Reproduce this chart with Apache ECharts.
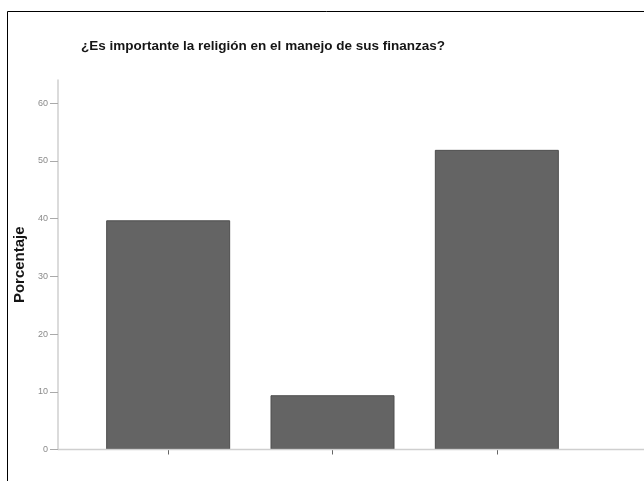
<!DOCTYPE html>
<html>
<head>
<meta charset="utf-8">
<script src="https://cdn.jsdelivr.net/npm/echarts@6/dist/echarts.min.js"></script>
<style>
html,body{margin:0;padding:0;background:#fff;}
#c{width:644px;height:481px;}
</style>
</head>
<body>
<div id="c"></div>
<script>
var titleText = '¿Es importante la religión en el manejo de sus finanzas?';
var yAxisName = 'Porcentaje';
var categories = ['Sí', 'Indiferente', 'No'];
var values = [39.7, 9.4, 51.9];
var yTicks = [0, 10, 20, 30, 40, 50, 60];

var chart = echarts.init(document.getElementById('c'), null, {renderer: 'canvas'});
chart.setOption({
  backgroundColor: '#ffffff',
  animation: false,
  title: {
    text: titleText,
    left: 258,
    top: 34,
    textAlign: 'center',
    textStyle: {fontFamily: 'Liberation Sans', fontWeight: 'bold', fontSize: 13.5, color: '#151515'}
  },
  grid: {left: 86, right: 65, top: 80, bottom: 31.5, containLabel: false},
  xAxis: {
    type: 'category',
    data: categories,
    axisLine: {show: false},
    axisTick: {show: true, alignWithLabel: true, length: 5, lineStyle: {color: '#666', width: 1}},
    axisLabel: {show: false},
    splitLine: {show: false}
  },
  yAxis: {
    type: 'value',
    min: 0,
    max: 64,
    offset: 28,
    name: yAxisName,
    nameLocation: 'middle',
    nameGap: 29,
    nameTextStyle: {fontFamily: 'Liberation Sans', fontWeight: 'bold', fontSize: 15, color: '#151515'},
    axisLine: {show: true, lineStyle: {color: '#cfcfcf', width: 1.5}},
    axisTick: {show: true, customValues: yTicks, length: 8, lineStyle: {color: '#aaa', width: 1}},
    axisLabel: {customValues: yTicks, fontFamily: 'Liberation Sans', fontSize: 9, color: '#8a8a8a', margin: 10},
    splitLine: {show: false}
  },
  series: [{
    type: 'bar',
    data: values,
    barWidth: 124,
    itemStyle: {color: '#646464', borderColor: '#4e4e4e', borderWidth: 1}
  }],
  graphic: [
    {type: 'line', z: 5, shape: {x1: 58, y1: 449.5, x2: 644, y2: 449.5}, style: {stroke: '#cfcfcf', lineWidth: 1.5}},
    {type: 'rect', z: 10, shape: {x: 7.5, y: 11.5, width: 700, height: 500}, style: {fill: null, stroke: '#000', lineWidth: 1}}
  ]
});
</script>
</body>
</html>
